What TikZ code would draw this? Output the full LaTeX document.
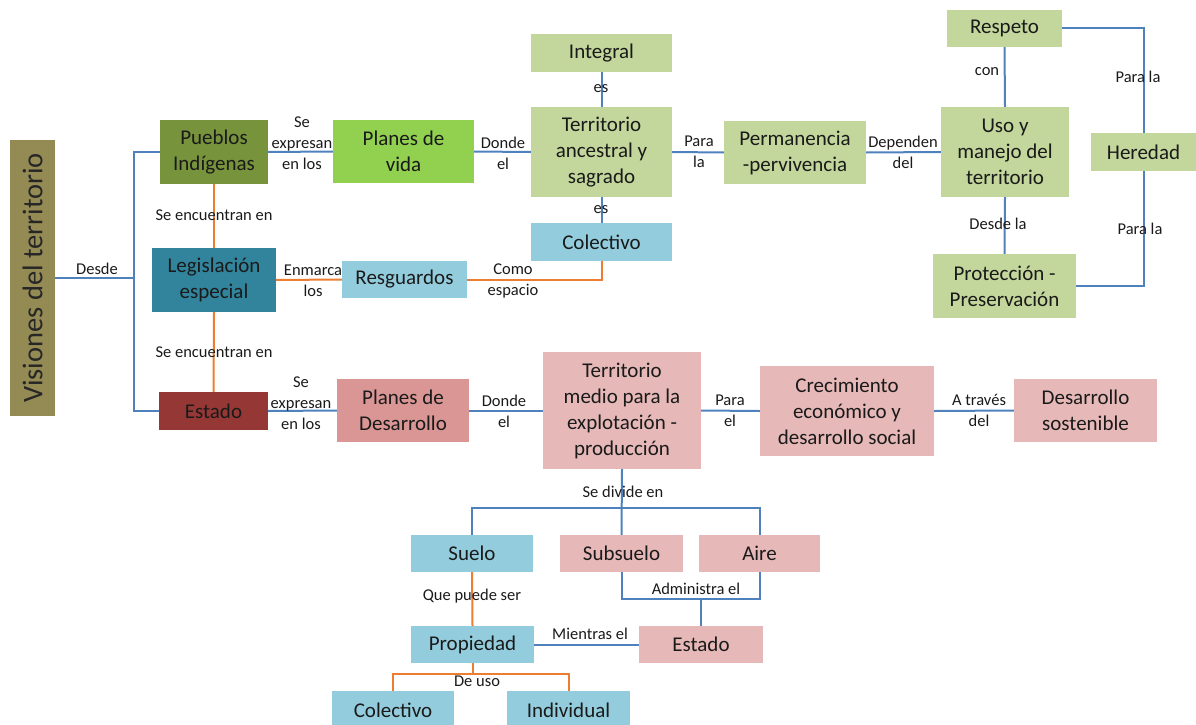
\documentclass[tikz,border=0pt]{standalone}
\usepackage{fontspec}
\setmainfont{Carlito}
\definecolor{cTitle}{HTML}{948A54}
\definecolor{cPueblo}{HTML}{77933C}
\definecolor{cLegis}{HTML}{31849B}
\definecolor{cEstado}{HTML}{953735}
\definecolor{cVida}{HTML}{92D050}
\definecolor{cLgreen}{HTML}{C3D69B}
\definecolor{cLblue}{HTML}{93CDDD}
\definecolor{cRose}{HTML}{D99694}
\definecolor{cPink}{HTML}{E6B9B8}
\definecolor{cLineB}{HTML}{4F81BD}
\definecolor{cLineO}{HTML}{ED7D31}
\definecolor{cTxt}{HTML}{1A1A1A}
\tikzset{
  box/.style={inner sep=0pt, align=center, text=cTxt, font=\fontsize{21}{26}\selectfont},
  lbl/.style={inner sep=0pt, align=center, text=cTxt, font=\fontsize{16.5}{21}\selectfont},
  bl/.style={draw=cLineB, line width=2pt},
  ol/.style={draw=cLineO, line width=2pt},
}
\newcommand{\bx}[7]{\node[box, fill=#5, minimum width=#3pt, minimum height=#4pt] (#6) at (#1,#2) {#7};}
\begin{document}
\begin{tikzpicture}[x=1pt,y=-1pt]
\useasboundingbox (0,0) rectangle (1196,725);
% nodes
\node[box, fill=cTitle, minimum width=276pt, minimum height=45pt, rotate=90, font=\fontsize{28.5}{32}\selectfont, text=black!85] (title) at (32.5,278) {Visiones del territorio};
\bx{214}{152}{108}{64}{cPueblo}{pueblos}{Pueblos\\Indígenas}
\bx{214}{280}{124}{64}{cLegis}{legis}{Legislación\\especial}
\bx{213.5}{411}{109}{38}{cEstado}{estadoA}{Estado}
\bx{403.5}{151.5}{141}{63}{cVida}{vida}{Planes de\\vida}
\bx{601.5}{152}{141}{90}{cLgreen}{terranc}{Territorio\\ancestral y\\sagrado}
\bx{601.5}{53}{141}{38}{cLgreen}{integral}{Integral}
\bx{601.5}{242}{141}{38}{cLblue}{colectA}{Colectivo}
\bx{404.5}{279.5}{125}{37}{cLblue}{resg}{Resguardos}
\bx{795}{152.5}{142}{63}{cLgreen}{perm}{Permanencia\\-pervivencia}
\bx{1005}{152}{128}{90}{cLgreen}{uso}{Uso y\\manejo del\\territorio}
\bx{1004.5}{28.5}{115}{37}{cLgreen}{respeto}{Respeto}
\bx{1143.5}{152}{105}{38}{cLgreen}{heredad}{Heredad}
\bx{1004.5}{286}{143}{64}{cLgreen}{protec}{Protección -\\Preservación}
\bx{403}{410.5}{132}{63}{cRose}{planesdes}{Planes de\\Desarrollo}
\bx{622}{410.5}{158}{117}{cPink}{terrmed}{Territorio\\medio para la\\explotación -\\producción}
\bx{847}{411}{174}{90}{cPink}{crec}{Crecimiento\\económico y\\desarrollo social}
\bx{1085.5}{410.5}{143}{63}{cPink}{desos}{Desarrollo\\sostenible}
\bx{472}{553.5}{122}{37}{cLblue}{suelo}{Suelo}
\bx{621.5}{553.5}{123}{37}{cPink}{subsuelo}{Subsuelo}
\bx{759.5}{553.5}{121}{37}{cPink}{aire}{Aire}
\bx{472.5}{644.5}{123}{37}{cLblue}{propiedad}{Propiedad}
\bx{701}{644.5}{124}{37}{cPink}{estadoB}{Estado}
\bx{393}{710}{122}{38}{cLblue}{colectB}{Colectivo}
\bx{568.5}{710}{123}{38}{cLblue}{indiv}{Individual}
% coordinates
\coordinate (bus) at (134,278);
\coordinate (split) at (622,508);
\coordinate (adm) at (701,599);
\coordinate (deuso) at (472.5,674);
% connectors
\draw[bl] (title.south) -- (bus);
\draw[bl] (pueblos.west) -| (bus) |- (estadoA.west);
\draw[ol] (pueblos.south) -- (legis.north);
\draw[ol] (legis.south) -- (estadoA.north);
\draw[ol] (legis.east) -- (resg.west);
\draw[ol] (resg.east) -| (colectA.south);
\draw[bl] (pueblos.east) -- (vida.west);
\draw[bl] (vida.east) -- (terranc.west);
\draw[bl] (integral.south) -- (terranc.north);
\draw[bl] (terranc.south) -- (colectA.north);
\draw[bl] (terranc.east) -- (perm.west);
\draw[bl] (perm.east) -- (uso.west);
\draw[bl] (respeto.south) -- (uso.north);
\draw[bl] (uso.south) -- (protec.north);
\draw[bl] (respeto.east) -| (heredad.north);
\draw[bl] (heredad.south) |- (protec.east);
\draw[bl] (estadoA.east) -- (planesdes.west);
\draw[bl] (planesdes.east) -- (terrmed.west);
\draw[bl] (terrmed.east) -- (crec.west);
\draw[bl] (crec.east) -- (desos.west);
\draw[bl] (terrmed.south) -- (subsuelo.north);
\draw[bl] (split) -| (suelo.north);
\draw[bl] (split) -| (aire.north);
\draw[bl] (subsuelo.south) |- (adm);
\draw[bl] (aire.south) |- (adm);
\draw[bl] (adm) -- (estadoB.north);
\draw[ol] (suelo.south) -- (propiedad.north);
\draw[bl] (propiedad.east) -- (estadoB.west);
\draw[ol] (propiedad.south) -- (deuso);
\draw[ol] (deuso) -| (colectB.north);
\draw[ol] (deuso) -| (indiv.north);
% labels
\node[lbl] (l1) at (97,269) {Desde};
\node[lbl] (l2) at (214,215) {Se encuentran en};
\node[lbl] (l3) at (214,352) {Se encuentran en};
\node[lbl] (l4) at (313,281) {Enmarca\\los};
\node[lbl] (l5) at (513,281) {Como\\espacio};
\node[lbl] (l6) at (302,143) {Se\\expresan\\en los};
\node[lbl] (l7) at (503,153) {Donde\\el};
\node[lbl] (l8) at (601,89) {es};
\node[lbl] (l9) at (601,210) {es};
\node[lbl] (l10) at (699,152) {Para\\la};
\node[lbl] (l11) at (903,152) {Dependen\\del};
\node[lbl] (l12) at (987,72) {con};
\node[lbl] (l13) at (998,224) {Desde la};
\node[lbl] (l14) at (1138,77) {Para la};
\node[lbl] (l15) at (1140,229) {Para la};
\node[lbl] (l16) at (301,403) {Se\\expresan\\en los};
\node[lbl] (l17) at (504,411) {Donde\\el};
\node[lbl] (l18) at (730,411) {Para\\el};
\node[lbl] (l19) at (979,410) {A través\\del};
\node[lbl] (l20) at (623,492) {Se divide en};
\node[lbl] (l21) at (696,589) {Administra el};
\node[lbl] (l22) at (472,596) {Que puede ser};
\node[lbl] (l23) at (590,634) {Mientras el};
\node[lbl] (l24) at (477,681) {De uso};
\end{tikzpicture}
\end{document}
